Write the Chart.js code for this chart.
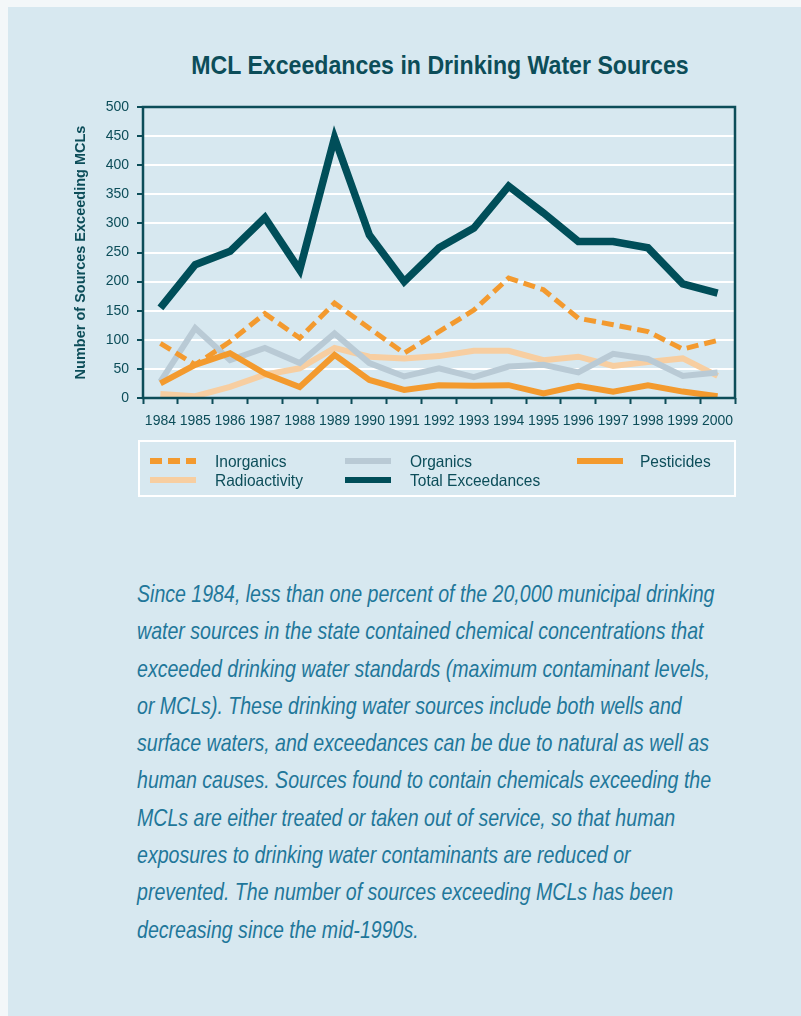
<!DOCTYPE html>
<html>
<head>
<meta charset="utf-8">
<script src="https://cdn.jsdelivr.net/npm/chart.js@4"></script>
<style>
  html, body { margin: 0; padding: 0; }
  body { width: 801px; height: 1016px; background: #f3f7f9; position: relative; overflow: hidden; }
  #panel { position: absolute; left: 8px; top: 7px; right: 0; bottom: 0; background: #d7e8f0; }
  #title { position: absolute; left: 0; width: 880px; top: 53px; text-align: center;
    font: bold 25px/25px "Liberation Sans", Arial, sans-serif; color: #0c4d59;
    transform: scaleX(0.925); transform-origin: 440px 0; }
  #chart { position: absolute; left: 0; top: 0; }
  #note { position: absolute; left: 137px; top: 575px; white-space: nowrap;
    font: italic 24px/37.3px "Liberation Sans", Arial, sans-serif; color: #1f779a;
    transform: scaleX(0.815); transform-origin: 0 0; }
</style>
</head>
<body>
<div id="panel"></div>
<div id="title">MCL Exceedances in Drinking Water Sources</div>
<canvas id="chart" width="801" height="520"></canvas>
<div id="note">Since 1984, less than one percent of the 20,000 municipal drinking<br>
water sources in the state contained chemical concentrations that<br>
exceeded drinking water standards (maximum contaminant levels,<br>
or MCLs). These drinking water sources include both wells and<br>
surface waters, and exceedances can be due to natural as well as<br>
human causes. Sources found to contain chemicals exceeding the<br>
MCLs are either treated or taken out of service, so that human<br>
exposures to drinking water contaminants are reduced or<br>
prevented. The number of sources exceeding MCLs has been<br>
decreasing since the mid-1990s.</div>
<script>
const years = ['1984','1985','1986','1987','1988','1989','1990','1991','1992',
               '1993','1994','1995','1996','1997','1998','1999','2000'];
const inorganics    = [94, 57, 97, 145, 103, 163, 120, 77, 114, 151, 206, 186, 137, 126, 114, 84, 99];
const organics      = [28, 120, 65, 86, 60, 111, 60, 37, 51, 36, 54, 57, 44, 76, 67, 38, 44];
const pesticides    = [25, 57, 77, 42, 19, 74, 31, 14, 22, 21, 22, 8, 21, 11, 22, 11, 3];
const radioactivity = [7, 3, 19, 40, 51, 86, 71, 68, 72, 81, 81, 65, 71, 55, 62, 68, 38];
const totals        = [155, 229, 252, 310, 220, 447, 280, 200, 258, 292, 364, 318, 269, 269, 258, 196, 180];

const teal = '#0c4d59';
const sans = '"Liberation Sans", Arial, sans-serif';

// frame round the plot area
const framePlugin = {
  id: 'frame',
  afterDatasetsDraw(chart) {
    const a = chart.chartArea, ctx = chart.ctx;
    ctx.save();
    ctx.strokeStyle = teal;
    ctx.lineWidth = 2.5;
    ctx.strokeRect(a.left, a.top, a.right - a.left, a.bottom - a.top);
    ctx.restore();
  }
};

// legend box under the axis, 3 columns
const legendSlots = [[150, 461, 215], [345, 461, 410], [577, 461, 640], [150, 480, 215], [345, 480, 410]];
const boxLegend = {
  id: 'boxLegend',
  afterDraw(chart) {
    const ctx = chart.ctx;
    ctx.save();
    ctx.strokeStyle = '#ffffff';
    ctx.lineWidth = 2;
    ctx.strokeRect(139, 441, 596, 55);
    ctx.textBaseline = 'middle';
    chart.data.datasets.forEach((ds, i) => {
      const [x, y, tx] = legendSlots[i];
      ctx.beginPath();
      ctx.strokeStyle = ds.borderColor;
      ctx.lineWidth = 6;
      ctx.setLineDash(ds.borderDash || []);
      ctx.moveTo(x, y);
      ctx.lineTo(x + 46, y);
      ctx.stroke();
      ctx.setLineDash([]);
      // condensed label
      ctx.save();
      ctx.translate(tx, y + 1);
      ctx.scale(0.94, 1);
      ctx.font = '16.5px ' + sans;
      ctx.fillStyle = teal;
      ctx.fillText(ds.label, 0, 0);
      ctx.restore();
    });
    ctx.restore();
  }
};

new Chart(document.getElementById('chart'), {
  type: 'line',
  data: {
    labels: years,
    datasets: [
      { label: 'Inorganics', data: inorganics, borderColor: '#f39a2f', borderWidth: 5, borderDash: [12, 6], order: 1 },
      { label: 'Organics', data: organics, borderColor: '#b9cad5', borderWidth: 6, order: 3 },
      { label: 'Pesticides', data: pesticides, borderColor: '#f39a2e', borderWidth: 6, order: 2 },
      { label: 'Radioactivity', data: radioactivity, borderColor: '#f7cea1', borderWidth: 6, order: 4 },
      { label: 'Total Exceedances', data: totals, borderColor: '#004e59', borderWidth: 7.5, order: 0 }
    ]
  },
  options: {
    responsive: false,
    animation: false,
    devicePixelRatio: 1,
    layout: { padding: { left: 60, right: 66, top: 107, bottom: 87 } },
    elements: {
      point: { radius: 0 },
      line: { tension: 0, borderJoinStyle: 'miter', borderCapStyle: 'butt', fill: false }
    },
    plugins: { legend: { display: false }, tooltip: { enabled: false }, title: { display: false } },
    scales: {
      x: {
        offset: true,
        grid: { offset: true, drawOnChartArea: false, drawTicks: true, tickLength: 6, tickColor: teal, tickWidth: 2 },
        border: { display: false },
        ticks: { color: teal, font: { family: sans, size: 14 }, padding: 9, maxRotation: 0, autoSkip: false },
        afterFit(s) { s.height = 35; }
      },
      y: {
        min: 0, max: 500,
        grid: { color: '#ffffff', lineWidth: 2, tickLength: 6, tickColor: teal, tickWidth: 2 },
        border: { display: false },
        ticks: { stepSize: 50, color: teal, font: { family: sans, size: 14 }, padding: 8 },
        title: { display: true, text: 'Number of Sources Exceeding MCLs', color: teal,
                 font: { family: sans, size: 14.5, weight: 'bold' }, padding: { top: 12, bottom: 0 } },
        afterFit(s) { s.width = 83; }
      }
    }
  },
  plugins: [framePlugin, boxLegend]
});
</script>
</body>
</html>
